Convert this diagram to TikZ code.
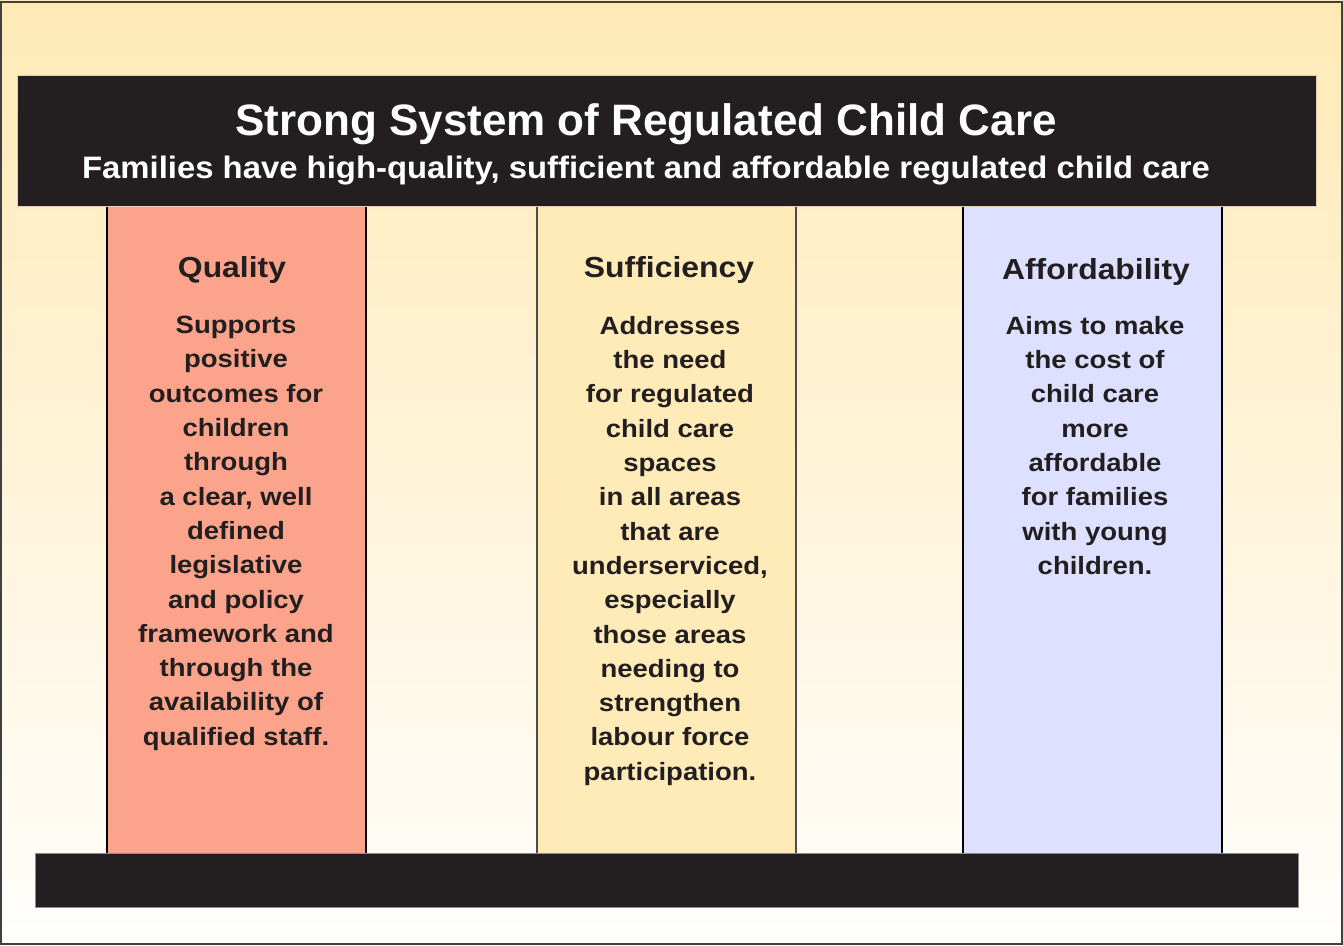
\documentclass[tikz,border=0pt]{standalone}
\usepackage{fontspec}
\setmainfont{Liberation Sans}
\newfontfamily\subfont[FakeStretch=1.06]{Liberation Sans}
\newfontfamily\widefont[FakeStretch=1.1]{Liberation Sans}
\definecolor{ink}{HTML}{231F20}
\definecolor{bgtop}{HTML}{FFEAB6}
\definecolor{bgbot}{HTML}{FFFEFC}
\definecolor{qualc}{HTML}{FBA48B}
\definecolor{suffc}{HTML}{FFEBB8}
\definecolor{affc}{HTML}{DEE0FF}
\tikzset{
  colbox/.style={draw=black, line width=1.2pt, minimum width=259pt, minimum height=648pt, inner sep=0pt},
  barbox/.style={fill=ink, inner sep=0pt},
  head/.style={text=ink, font=\widefont\bfseries\fontsize{29}{34}\selectfont, anchor=base, inner sep=0pt},
  body/.style={text=ink, font=\widefont\bfseries\fontsize{25}{34.3}\selectfont, align=center, anchor=north, inner sep=0pt},
}
\begin{document}
\begin{tikzpicture}[x=1pt,y=-1pt]
\useasboundingbox (0,0) rectangle (1343,945);
\shade[top color=bgtop, bottom color=bgbot] (0,0) rectangle (1343,945);
\draw[draw=black!75, line width=1.2pt] (1,2) rectangle (1342,944);
% columns
\node[colbox, fill=qualc] (qcol) at (236.5,530) {};
\node[colbox, fill=suffc, draw=black!70] (scol) at (666.5,530) {};
\node[colbox, fill=affc] (acol) at (1092.5,530) {};
% top bar
\node[barbox, draw=brown!40, minimum width=1299pt, minimum height=131pt] (top) at (666.5,140.5) {};
\node[text=white, font=\bfseries\fontsize{44}{48}\selectfont, anchor=base, inner sep=0pt] (title) at (646,135) {Strong System of Regulated Child Care};
\node[text=white, font=\subfont\bfseries\fontsize{31}{34}\selectfont, anchor=base, inner sep=0pt] (subtitle) at (646,178) {Families have high-quality, sufficient and affordable regulated child care};
% bottom bar
\node[barbox, draw=black!45, minimum width=1263pt, minimum height=54pt] (base) at (666.5,880) {};
% headings
\node[head] (qh) at (232,277) {Quality};
\node[head] (sh) at (669,277) {Sufficiency};
\node[head] (ah) at (1096,279) {Affordability};
% bodies
\node[body] (qb) at (236,316) {Supports\\positive\\outcomes for\\children\\through\\a clear, well\\defined\\legislative\\and policy\\framework and\\through the\\availability of\\qualified staff.};
\node[body] (sb) at (670,316) {Addresses\\the need\\for regulated\\child care\\spaces\\in all areas\\that are\\underserviced,\\especially\\those areas\\needing to\\strengthen\\labour force\\participation.};
\node[body] (ab) at (1095,316) {Aims to make\\the cost of\\child care\\more\\affordable\\for families\\with young\\children.};
\end{tikzpicture}
\end{document}
